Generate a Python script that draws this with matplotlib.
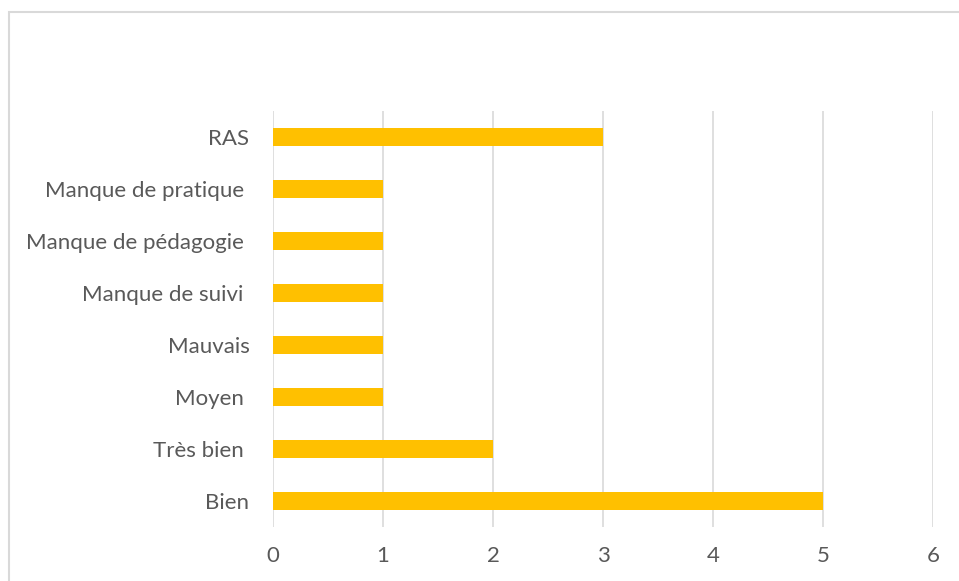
import matplotlib
matplotlib.use("Agg")
import matplotlib.pyplot as plt
from matplotlib.patches import Rectangle

categories = ["Bien", "Très bien ", "Moyen ", "Mauvais", "Manque de suivi ",
              "Manque de pédagogie ", "Manque de pratique ", "RAS"]
values = [5, 2, 1, 1, 1, 1, 1, 3]
xticks = [0, 1, 2, 3, 4, 5, 6]

plt.rcParams['font.family'] = ['Lato', 'DejaVu Sans']

fig = plt.figure(figsize=(9.59, 5.81), dpi=100)
ax = fig.add_axes([273/959, 1-527/581, (933-273)/959, (527-111)/581])

y = list(range(len(categories)))
ax.barh(y, values, height=0.36, color="#FFC000", zorder=3)
ax.set_ylim(-0.5, len(categories)-0.5)
ax.set_xlim(0, 6)
ax.set_xticks(xticks)
ax.set_yticks(y)
ax.set_yticklabels(categories)
ax.grid(axis="x", color="#D9D9D9", linewidth=1.2, zorder=0)
ax.grid(axis="y", visible=False)
for s in ax.spines.values():
    s.set_visible(False)
ax.tick_params(axis="both", length=0, colors="#595959", labelsize=16)
ax.tick_params(axis="y", pad=17)
ax.tick_params(axis="x", pad=14)

fig.patches.append(Rectangle((9/959, -0.2), 1.2, 1.2-12/581, transform=fig.transFigure,
                             fill=False, edgecolor="#D9D9D9", linewidth=1.5))

fig.savefig("out.png", dpi=100)
